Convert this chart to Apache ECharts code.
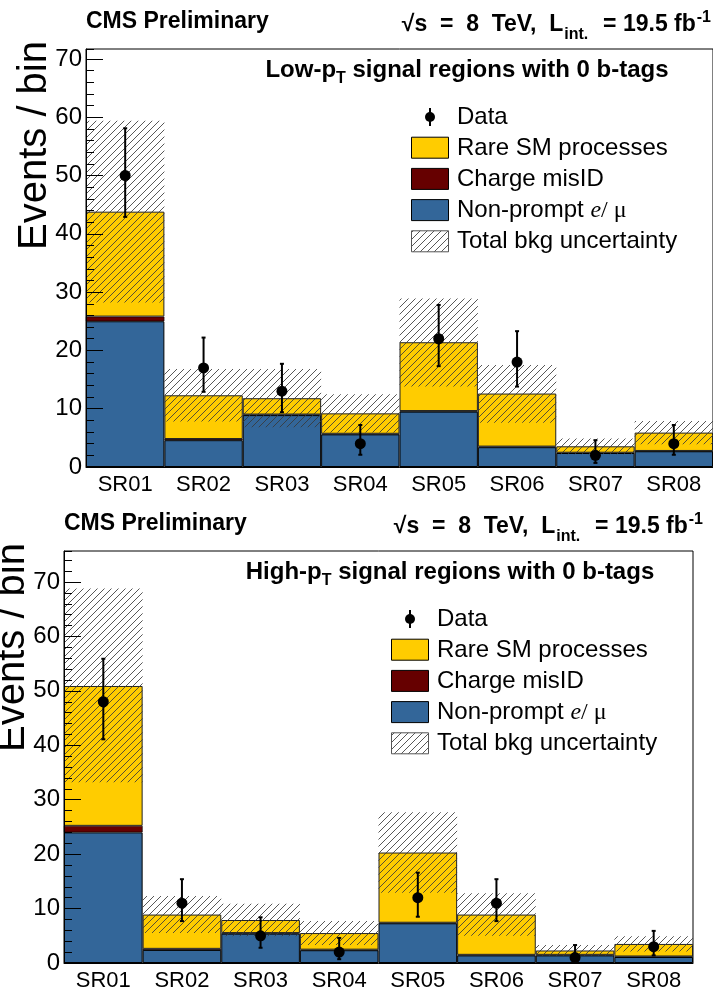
<!DOCTYPE html>
<html><head><meta charset="utf-8">
<script src="https://cdn.jsdelivr.net/npm/echarts@6/dist/echarts.min.js"></script>
<style>html,body{margin:0;padding:0;background:#fff}#c{width:713px;height:992px}</style>
</head><body><div id="c"></div><script>
// ---------- data ----------
const categories = ['SR01','SR02','SR03','SR04','SR05','SR06','SR07','SR08'];
const yTickInterval = 10;

// Low-pT panel
const lowNonPrompt   = [25.0, 4.6, 8.9, 5.6, 9.5, 3.4, 2.4, 2.7];
const lowChargeMisID = [0.8, 0.2, 0.1, 0.1, 0.1, 0.1, 0.05, 0.05];
const lowRare        = [18.0, 7.5, 2.8, 3.5, 11.8, 9.1, 1.1, 3.15];
const lowUncLow      = [28.2, 7.8, 6.8, 5.9, 13.8, 7.6, 2.2, 3.9];
const lowUncHigh     = [59.4, 16.8, 16.8, 12.5, 28.9, 17.5, 4.9, 7.9];
const lowData        = [50, 17, 13, 4, 22, 18, 2, 4];
const lowDataErrLow  = [42.9, 12.9, 9.4, 2.1, 17.3, 13.8, 0.7, 2.1];
const lowDataErrHigh = [58.1, 22.2, 17.7, 7.2, 27.8, 23.3, 4.6, 7.2];

// High-pT panel
const highNonPrompt   = [24.0, 2.4, 5.4, 2.35, 7.3, 1.4, 1.4, 1.1];
const highChargeMisID = [1.2, 0.2, 0.1, 0.1, 0.1, 0.1, 0.1, 0.1];
const highRare        = [25.7, 6.3, 2.4, 3.05, 12.9, 7.4, 0.8, 2.3];
const highUncLow      = [33.2, 5.5, 4.9, 3.3, 12.9, 5.0, 1.3, 2.1];
const highUncHigh     = [68.8, 12.3, 10.9, 7.7, 27.7, 12.8, 3.3, 4.9];
const highData        = [48, 11, 5, 2, 12, 11, 1, 3];
const highDataErrLow  = [41.1, 7.7, 2.8, 0.7, 8.5, 7.7, 0.2, 1.4];
const highDataErrHigh = [55.9, 15.4, 8.4, 4.6, 16.6, 15.4, 3.3, 5.9];

const legendLabels = ['Data','Rare SM processes','Charge misID','Non-prompt','Total bkg uncertainty'];

// ---------- styling ----------
const FF = "'Liberation Sans', Arial, Helvetica, sans-serif";
const SERIF = "'Liberation Serif', 'DejaVu Serif', serif";
const C_RARE = '#ffcc00', C_CM = '#660000', C_NP = '#336699';

function makeHatch(){
  const s = 7, c = document.createElement('canvas');
  c.width = s; c.height = s;
  const g = c.getContext('2d');
  g.strokeStyle = '#3a3a3a'; g.lineWidth = 0.85;
  g.beginPath();
  g.moveTo(0, s); g.lineTo(s, 0);
  g.moveTo(-1, 1); g.lineTo(1, -1);
  g.moveTo(s - 1, s + 1); g.lineTo(s + 1, s - 1);
  g.stroke();
  return c;
}
const hatch = { image: makeHatch(), repeat: 'repeat' };

const panels = [
  { grid: {left: 86, top: 49, width: 628, height: 418}, ymax: 71.7,
    np: lowNonPrompt, cm: lowChargeMisID, rare: lowRare, ul: lowUncLow, uh: lowUncHigh,
    d: lowData, dl: lowDataErrLow, dh: lowDataErrHigh,
    head: 49, legX: 430, legY: 117, title: 'Low-p{sub|T} signal regions with 0 b-tags', titleX: 467,
    hdrRight: 711, yTitleX: 35 },
  { grid: {left: 64, top: 551, width: 629, height: 417}, ymax: 75.7,
    np: highNonPrompt, cm: highChargeMisID, rare: highRare, ul: highUncLow, uh: highUncHigh,
    d: highData, dl: highDataErrLow, dh: highDataErrHigh,
    head: 551, legX: 410, legY: 619, title: 'High-p{sub|T} signal regions with 0 b-tags', titleX: 450,
    hdrRight: 703, yTitleX: 13 }
];

const grids = [], xAxes = [], yAxes = [], series = [], graphics = [];

panels.forEach((p, k) => {
  grids.push(Object.assign({show: true, borderColor: '#000', borderWidth: 1, containLabel: false}, p.grid));
  xAxes.push({
    type: 'category', gridIndex: k, data: categories, boundaryGap: true, z: 10,
    axisLine: {lineStyle: {color: '#000', width: 1}},
    axisTick: {inside: true, length: 13, alignWithLabel: false, lineStyle: {color: '#000'}},
    axisLabel: {color: '#000', fontSize: 22, fontFamily: FF, margin: 7}
  });
  yAxes.push({
    type: 'value', gridIndex: k, min: 0, max: p.ymax, interval: yTickInterval, position: 'left', z: 10,
    axisLine: {show: true, lineStyle: {color: '#000'}},
    axisTick: {show: true, inside: true, length: 17, lineStyle: {color: '#000'}},
    axisLabel: {color: '#000', fontSize: 24, fontFamily: FF, margin: 4, showMaxLabel: false},
    splitLine: {show: false}
  });
  yAxes.push({
    type: 'value', gridIndex: k, min: 0, max: p.ymax, interval: 2, position: 'left', z: 10,
    axisLine: {show: false},
    axisTick: {show: true, inside: true, length: 8, lineStyle: {color: '#000'}},
    axisLabel: {show: false}, splitLine: {show: false}
  });
  const yi = k * 2;
  const barCommon = {type: 'bar', xAxisIndex: k, yAxisIndex: yi, stack: 'bkg' + k,
    barCategoryGap: '0%', barGap: '0%', animation: false};
  series.push(Object.assign({}, barCommon, {name: 'np' + k, data: p.np,
    itemStyle: {color: C_NP, borderColor: '#000', borderWidth: 1}}));
  series.push(Object.assign({}, barCommon, {name: 'cm' + k, data: p.cm,
    itemStyle: {color: C_CM, borderColor: '#000', borderWidth: 0.6}}));
  series.push(Object.assign({}, barCommon, {name: 'rare' + k, data: p.rare,
    itemStyle: {color: C_RARE, borderColor: '#222', borderWidth: 1}}));
  // uncertainty band (hatched)
  series.push({
    type: 'custom', xAxisIndex: k, yAxisIndex: yi, animation: false, z: 3,
    data: categories.map((c, i) => [i, p.ul[i], p.uh[i]]),
    encode: {x: 0, y: [1, 2]},
    renderItem: (params, api) => {
      const i = api.value(0);
      const top = api.coord([i, api.value(2)]);
      const bot = api.coord([i, api.value(1)]);
      const w = api.size([1, 0])[0];
      return {type: 'rect', shape: {x: top[0] - w / 2, y: top[1], width: w, height: bot[1] - top[1]},
        style: {fill: hatch, stroke: null}};
    }
  });
  // data points with error bars
  series.push({
    type: 'custom', xAxisIndex: k, yAxisIndex: yi, animation: false, z: 5,
    data: categories.map((c, i) => [i, p.d[i], p.dl[i], p.dh[i]]),
    encode: {x: 0, y: [1, 2, 3]},
    renderItem: (params, api) => {
      const i = api.value(0);
      const c = api.coord([i, api.value(1)]);
      const lo = api.coord([i, api.value(2)]);
      const hi = api.coord([i, api.value(3)]);
      const ls = {stroke: '#000', lineWidth: 2};
      return {type: 'group', children: [
        {type: 'line', shape: {x1: c[0], y1: hi[1], x2: c[0], y2: lo[1]}, style: ls},
        {type: 'line', shape: {x1: c[0] - 2, y1: hi[1], x2: c[0] + 2, y2: hi[1]}, style: ls},
        {type: 'line', shape: {x1: c[0] - 2, y1: lo[1], x2: c[0] + 2, y2: lo[1]}, style: ls},
        {type: 'circle', shape: {cx: c[0], cy: c[1], r: 5.5}, style: {fill: '#000'}}
      ]};
    }
  });

  // ---- texts ----
  const H = p.head;
  graphics.push({type: 'text', x: p.grid.left, y: H - 27,
    style: {text: 'CMS Preliminary', font: 'bold 23px ' + FF, fill: '#000', verticalAlign: 'middle'}});
  graphics.push({type: 'text', x: p.hdrRight, y: H - 24,
    style: {text: '√s  =  8  TeV,  L{sub|int.}  = 19.5 fb{sup|-1}', font: 'bold 23px ' + FF, fill: '#000',
      align: 'right', verticalAlign: 'middle',
      rich: {sub: {font: 'bold 16px ' + FF, padding: [20, 2, 0, 1]},
             sup: {font: 'bold 16px ' + FF, padding: [0, 0, 14, 1]}}}});
  graphics.push({type: 'text', x: p.titleX, y: H + 21,
    style: {text: p.title, font: 'bold 24px ' + FF, fill: '#000', align: 'center', verticalAlign: 'middle',
      rich: {sub: {font: 'bold 16px ' + FF, padding: [18, 0, 0, 0]}}}});
  graphics.push({type: 'text', x: p.yTitleX, y: H - 8, rotation: Math.PI / 2,
    style: {text: 'Events / bin', font: '40px ' + FF, fill: '#000', align: 'right', verticalAlign: 'middle'}});

  // ---- legend ----
  const lx = p.legX, ly = p.legY, step = 31.2, tx = lx + 27;
  graphics.push({type: 'line', shape: {x1: lx, y1: ly - 9, x2: lx, y2: ly + 9}, style: {stroke: '#000', lineWidth: 2}});
  graphics.push({type: 'circle', shape: {cx: lx, cy: ly, r: 5}, style: {fill: '#000'}});
  const boxes = [C_RARE, C_CM, C_NP, hatch];
  boxes.forEach((col, j) => {
    const cy = ly + step * (j + 1);
    graphics.push({type: 'rect', shape: {x: lx - 18.5, y: cy - 11, width: 37, height: 21},
      style: {fill: col, stroke: j === 3 ? '#555' : '#000', lineWidth: 1}});
  });
  legendLabels.forEach((t, j) => {
    const cy = ly + step * j;
    if (j === 3) {
      graphics.push({type: 'text', x: tx, y: cy,
        style: {text: t + ' {e|e}{s|/ μ}', font: '24px ' + FF, fill: '#000', verticalAlign: 'middle',
          rich: {e: {font: 'italic 24px ' + SERIF}, s: {font: '24px ' + SERIF}}}});
    } else {
      graphics.push({type: 'text', x: tx, y: cy,
        style: {text: t, font: '24px ' + FF, fill: '#000', verticalAlign: 'middle'}});
    }
  });
});

const chart = echarts.init(document.getElementById('c'), null, {renderer: 'canvas'});
chart.setOption({
  animation: false,
  backgroundColor: '#fff',
  grid: grids, xAxis: xAxes, yAxis: yAxes, series: series, graphic: graphics
});
</script></body></html>
